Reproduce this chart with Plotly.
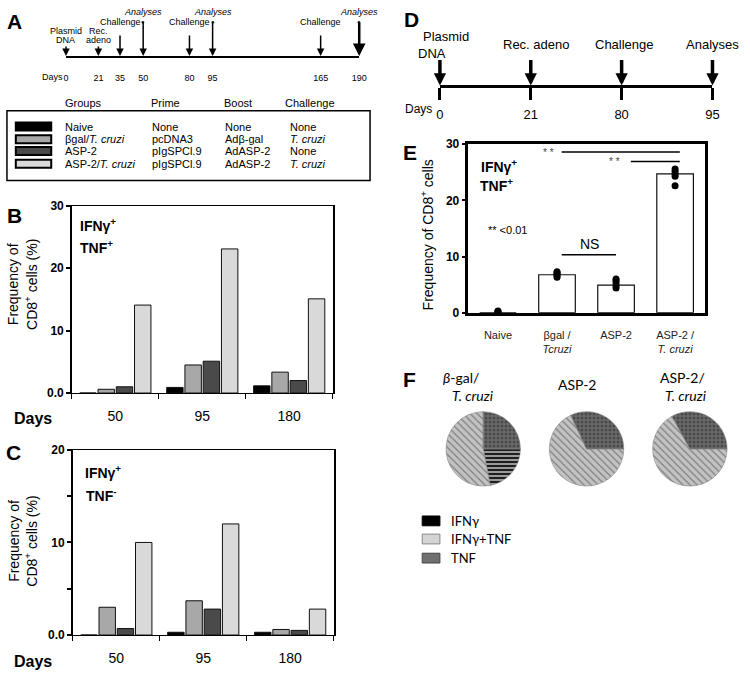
import plotly.graph_objects as go

W, H = 750, 692
def px(x): return x / W
def py(y): return 1 - y / H

FONT = "Liberation Sans, Arial, sans-serif"
FONT_F = "Lato, Open Sans, sans-serif"

# ---------------- data ----------------
bc_days = ["50", "95", "180"]
group_names = ["Naive", "βgal/T. cruzi", "ASP-2", "ASP-2/T. cruzi"]
group_colors = ["#000000", "#a8a8a8", "#4a4a4a", "#d9d9d9"]

b_naive = [0.0, 0.9, 1.15]
b_bgal = [0.6, 4.5, 3.35]
b_asp2 = [1.0, 5.1, 2.0]
b_asp2_tc = [14.1, 23.1, 15.1]

c_naive = [0.0, 0.3, 0.3]
c_bgal = [3.0, 3.7, 0.6]
c_asp2 = [0.7, 2.8, 0.5]
c_asp2_tc = [10.0, 12.0, 2.8]

e_categories = ["Naive", "βgal / Tcruzi", "ASP-2", "ASP-2 / T. cruzi"]
e_ticktext = ["Naive", "βgal /<br><i>Tcruzi</i>", "ASP-2", "ASP-2 /<br><i>T. cruzi</i>"]
e_means = [0.0, 6.75, 4.9, 24.7]
e_points_naive = [0.1, 0.2, 0.3]
e_points_bgal = [6.3, 6.6, 6.9, 7.1, 7.3]
e_points_asp2 = [4.4, 4.8, 5.3, 5.7, 6.0]
e_points_asp2_tc = [22.6, 24.3, 24.7, 25.2, 25.6]

a_days = [0, 21, 35, 50, 80, 95, 165, 190]
a_events = ["Plasmid DNA", "Rec. adeno", "Challenge", "Analyses",
            "Challenge", "Analyses", "Challenge", "Analyses"]
d_days = ["0", "21", "80", "95"]
d_events = ["Plasmid DNA", "Rec. adeno", "Challenge", "Analyses"]

table_headers = ["Groups", "Prime", "Boost", "Challenge"]
table_groups = ["Naive", "βgal/<i>T. cruzi</i>", "ASP-2", "ASP-2/<i>T. cruzi</i>"]
table_prime = ["None", "pcDNA3", "pIgSPCl.9", "pIgSPCl.9"]
table_boost = ["None", "Adβ-gal", "AdASP-2", "AdASP-2"]
table_challenge = ["None", "<i>T. cruzi</i>", "None", "<i>T. cruzi</i>"]

pie_labels = ["IFNγ", "IFNγ+TNF", "TNF"]
pie_bgal_tc = [22, 53, 25]
pie_asp2 = [0, 68, 32]
pie_asp2_tc = [0, 67, 33]

# ---------------- figure ----------------
fig = go.Figure()

b_series = [b_naive, b_bgal, b_asp2, b_asp2_tc]
c_series = [c_naive, c_bgal, c_asp2, c_asp2_tc]
for name, col, vb, vc in zip(group_names, group_colors, b_series, c_series):
    fig.add_trace(go.Bar(x=bc_days, y=vb, name=name, marker=dict(color=col, line=dict(color="#111", width=1)),
                         xaxis="x", yaxis="y", showlegend=False))
    fig.add_trace(go.Bar(x=bc_days, y=vc, name=name, marker=dict(color=col, line=dict(color="#111", width=1)),
                         xaxis="x2", yaxis="y2", showlegend=False))

# Panel E
fig.add_trace(go.Bar(x=e_categories, y=e_means, width=0.62,
                     marker=dict(color="white", line=dict(color="#111", width=1.2)),
                     xaxis="x3", yaxis="y3", showlegend=False))
for cat, pts in zip(e_categories, [e_points_naive, e_points_bgal, e_points_asp2, e_points_asp2_tc]):
    fig.add_trace(go.Scatter(x=[cat] * len(pts), y=pts, mode="markers",
                             marker=dict(color="black", size=7),
                             xaxis="x3", yaxis="y3", showlegend=False))

# Timelines A and D (the axis line is the timeline)
fig.add_trace(go.Scatter(x=a_days, y=[0] * len(a_days), mode="markers", marker=dict(size=1, color="rgba(0,0,0,0)"),
                         xaxis="x4", yaxis="y4", showlegend=False, hoverinfo="skip"))
fig.add_trace(go.Scatter(x=d_days, y=[0] * len(d_days), mode="markers", marker=dict(size=1, color="rgba(0,0,0,0)"),
                         xaxis="x5", yaxis="y5", showlegend=False, hoverinfo="skip"))

# Pies
pie_domains = [(449, 525), (554, 630), (659, 735)]
pat = dict(shape=["-", "\\", "."],
           bgcolor=["#9a9a9a", "#c2c2c2", "#6a6a6a"],
           fgcolor=["#111111", "#808080", "#4a4a4a"],
           size=[4, 5, 4], solidity=[0.45, 0.25, 0.45])
for vals, (x0, x1) in zip([pie_bgal_tc, pie_asp2, pie_asp2_tc], pie_domains):
    fig.add_trace(go.Pie(labels=pie_labels, values=vals, sort=False, direction="clockwise", rotation=90,
                         textinfo="none", showlegend=False,
                         domain=dict(x=[px(x0), px(x1)], y=[py(489), py(413)]),
                         marker=dict(colors=["#9a9a9a", "#c2c2c2", "#6a6a6a"], pattern=pat,
                                     line=dict(color="#888", width=0.6))))

ann = []
shapes = []

def txt(x, y, s, size=11, bold=False, xanchor="center", family=FONT, **kw):
    if bold:
        s = "<b>" + s + "</b>"
    d = dict(x=px(x), y=py(y), xref="paper", yref="paper", text=s, showarrow=False,
             font=dict(size=size, family=family, color="black"), xanchor=xanchor, yanchor="middle")
    d.update(kw)
    ann.append(d)

# Panel letters
for L, x, y in [("A", 11, 15), ("B", 11, 213), ("C", 10, 455), ("D", 414, 13), ("E", 413, 148), ("F", 412, 380)]:
    txt(x, y, L, size=21, bold=True)

# ---- Panel A timeline ----
a_label_lines = {"Plasmid DNA": ["Plasmid", "DNA"], "Rec. adeno": ["Rec.", "adeno"],
                 "Challenge": ["Challenge"], "Analyses": ["<i>Analyses</i>"]}
a_arrow_top = {"Plasmid DNA": 39, "Rec. adeno": 39, "Challenge": 28, "Analyses": 15}
a_label_top = {"Plasmid DNA": 25, "Rec. adeno": 25, "Challenge": 15.5, "Analyses": 5.5}
for i, (d, ev) in enumerate(zip(a_days, a_events)):
    ann.append(dict(x=d, y=0, xref="x4", yref="y4", text="", showarrow=True, ax=0,
                    ay=-(50 - a_arrow_top[ev]), arrowhead=2, arrowsize=1,
                    arrowwidth=2.5 if i == len(a_days) - 1 else 1.5, arrowcolor="black"))
    for j, line in enumerate(a_label_lines[ev]):
        ann.append(dict(x=d, y=py(a_label_top[ev] + 9 * j), xref="x4", yref="paper", text=line,
                        showarrow=False, font=dict(size=9, family=FONT), xanchor="center", yanchor="middle"))
    if ev == "Analyses":
        ann.append(dict(x=d, y=py(15), xref="x4", yref="paper", text="●", showarrow=False,
                        font=dict(size=6, family=FONT), xanchor="center", yanchor="middle"))
txt(49, 71, "Days", size=9)

# ---- Legend table ----
shapes.append(dict(type="rect", xref="paper", yref="paper", x0=px(3), x1=px(372), y0=py(177), y1=py(106),
                   line=dict(color="black", width=1.5)))
col_x = [60, 147, 222, 284]
for h, x in zip(table_headers, col_x):
    txt(x, 98, h, size=11, xanchor="left")
row_y = [122, 135, 147, 160]
for i, y in enumerate(row_y):
    shapes.append(dict(type="rect", xref="paper", yref="paper", x0=px(12), x1=px(48), y0=py(y + 4), y1=py(y - 4),
                       fillcolor=group_colors[i], line=dict(color="black", width=2)))
    txt(60, y, table_groups[i], size=11, xanchor="left")
    txt(148, y, table_prime[i], size=11, xanchor="left")
    txt(223, y, table_boost[i], size=11, xanchor="left")
    txt(289, y, table_challenge[i], size=11, xanchor="left")

# ---- Panel B / C text ----
txt(19, 283, "Frequency of<br>CD8<sup>+</sup> cells (%)", size=14, textangle=-90)
txt(96, 223, "IFNγ<sup>+</sup>", size=14, bold=True)
txt(94, 245, "TNF<sup>+</sup>", size=14, bold=True)
txt(29, 420, "Days", size=16, bold=True)

txt(19, 545, "Frequency of<br>CD8<sup>+</sup> cells (%)", size=14, textangle=-90)
txt(101, 475, "IFNγ<sup>+</sup>", size=14, bold=True)
txt(99, 498, "TNF<sup>-</sup>", size=14, bold=True)
txt(29, 668, "Days", size=16, bold=True)

# ---- Panel D ----
d_label = {"Plasmid DNA": [("Plasmid", 30, 6), ("DNA", 47, -8)], "Rec. adeno": [("Rec. adeno", 38, 6)],
           "Challenge": [("Challenge", 38, 3)], "Analyses": [("Analyses", 38, 0)]}
for i, ev in enumerate(d_events):
    ann.append(dict(x=i, y=0, xref="x5", yref="y5", text="", showarrow=True, ax=0, ay=-27,
                    arrowhead=2, arrowsize=0.7, arrowwidth=3.5, arrowcolor="black"))
    for s, y, xs in d_label[ev]:
        ann.append(dict(x=i, y=py(y), xref="x5", yref="paper", text=s, showarrow=False, xshift=xs,
                        font=dict(size=13, family=FONT), xanchor="center", yanchor="middle"))
txt(421, 104, "Days", size=12)

# ---- Panel E text ----
txt(430, 233, "Frequency of CD8<sup>+</sup> cells", size=14, textangle=-90)
txt(503, 162, "IFNγ<sup>+</sup>", size=14, bold=True)
txt(500, 182, "TNF<sup>+</sup>", size=14, bold=True)
txt(490, 228, "** <0.01", size=11, xanchor="left")
ann.append(dict(x=1.55, y=12.3, xref="x3", yref="y3", text="NS", showarrow=False,
                font=dict(size=14, family=FONT), xanchor="center", yanchor="middle"))
ann.append(dict(x=0.85, y=28.6, xref="x3", yref="y3", text="* *", showarrow=False,
                font=dict(size=10, family=FONT, color="#444444"), xanchor="center", yanchor="middle"))
ann.append(dict(x=1.97, y=26.9, xref="x3", yref="y3", text="* *", showarrow=False,
                font=dict(size=10, family=FONT, color="#444444"), xanchor="center", yanchor="middle"))
for x0, x1, y in [(1.08, 2.0, 10.3), (1.08, 3.08, 28.6), (2.25, 3.08, 26.9)]:
    shapes.append(dict(type="line", xref="x3", yref="y3", x0=x0, x1=x1, y0=y, y1=y,
                       line=dict(color="black", width=1.5)))

# ---- Panel F text ----
txt(464, 378, "<i>β</i>-gal/", size=14, family=FONT_F)
txt(477, 397, "<i>T. cruzi</i>", size=14, family=FONT_F)
txt(582, 385, "ASP-2", size=14, family=FONT_F)
txt(690, 378, "ASP-2/", size=14, family=FONT_F)
txt(693, 397, "<i>T. cruzi</i>", size=14, family=FONT_F)

leg = [("IFNγ", "#000000", "#000000", 524.5), ("IFNγ+TNF", "#d4d4d4", "#888888", 543),
       ("TNF", "#707070", "#444444", 562.5)]
for lab, fc, lc, y in leg:
    shapes.append(dict(type="rect", xref="paper", yref="paper", x0=px(425), x1=px(443), y0=py(y + 5), y1=py(y - 5),
                       fillcolor=fc, line=dict(color=lc, width=1)))
    txt(452, y, lab, size=13, family=FONT_F, xanchor="left")

# ---------------- layout ----------------
def bar_xaxis(d0, d1, anchor):
    return dict(domain=[px(d0), px(d1)], anchor=anchor, type="category", showline=True, linecolor="black",
                linewidth=1, mirror=True, ticks="outside", tickson="boundaries", ticklen=5, tickcolor="black",
                tickfont=dict(size=14, family=FONT), ticklabelstandoff=10, showgrid=False, zeroline=False)

fig.update_layout(
    width=W, height=H, margin=dict(l=0, r=0, t=0, b=0),
    paper_bgcolor="white", plot_bgcolor="white",
    font=dict(family=FONT, color="black"),
    barmode="group", bargap=0.16, bargroupgap=0.1,
    xaxis=bar_xaxis(69, 334, "y"),
    yaxis=dict(domain=[py(394), py(203)], anchor="x", range=[0, 30], tickvals=[0, 10, 20, 30],
               ticktext=["<b>0.0</b>", "<b>10</b>", "<b>20</b>", "<b>30</b>"], ticks="outside", ticklen=4,
               tickwidth=2, tickcolor="black", showline=True, linecolor="black", linewidth=1.5, mirror=True,
               showgrid=False, zeroline=False, tickfont=dict(size=12, family=FONT)),
    xaxis2=bar_xaxis(70, 335, "y2"),
    yaxis2=dict(domain=[py(641), py(452)], anchor="x2", range=[0, 20], tickvals=[0, 5, 10, 15, 20],
                ticktext=["<b>0.0</b>", "", "<b>10</b>", "", "<b>20</b>"], ticks="outside", ticklen=4,
                tickwidth=2, tickcolor="black", showline=True, linecolor="black", linewidth=1.5, mirror=True,
                showgrid=False, zeroline=False, tickfont=dict(size=12, family=FONT)),
    xaxis3=dict(domain=[px(472), px(712)], anchor="y3", type="category", categoryorder="array",
                categoryarray=e_categories, tickvals=e_categories, ticktext=e_ticktext, showline=True,
                linecolor="black", linewidth=2.5, mirror=True, ticks="", ticklabelstandoff=10,
                tickfont=dict(size=11, family=FONT, color="#222"), showgrid=False, zeroline=False),
    yaxis3=dict(domain=[py(312), py(140)], anchor="x3", range=[0, 30], tickvals=[0, 10, 20, 30],
                ticktext=["<b>0</b>", "<b>10</b>", "<b>20</b>", "<b>30</b>"], ticks="outside", ticklen=4,
                tickwidth=2, tickcolor="black", showline=True, linecolor="black", linewidth=2.5, mirror=True,
                showgrid=False, zeroline=False, tickfont=dict(size=12, family=FONT)),
    xaxis4=dict(domain=[px(63), px(361)], anchor="y4", range=[0, 190], tickvals=a_days,
                ticktext=[str(d) for d in a_days], showline=True, linecolor="black", linewidth=2, ticks="",
                ticklabelstandoff=12, tickfont=dict(size=9, family=FONT), showgrid=False, zeroline=False),
    yaxis4=dict(domain=[py(50), py(0)], anchor="x4", range=[0, 1], visible=False),
    xaxis5=dict(domain=[px(443), px(720)], anchor="y5", type="category", categoryorder="array",
                categoryarray=d_days, range=[0, 3], showline=True, linecolor="black", linewidth=3,
                ticks="outside", ticklen=12, tickwidth=3, tickcolor="black", ticklabelstandoff=3,
                tickfont=dict(size=13, family=FONT), showgrid=False, zeroline=False),
    yaxis5=dict(domain=[py(80), py(20)], anchor="x5", range=[0, 1], visible=False),
    annotations=ann, shapes=shapes,
)

fig.write_html("out.html", config={"displayModeBar": False},
               post_script="document.body.style.margin='0';")
